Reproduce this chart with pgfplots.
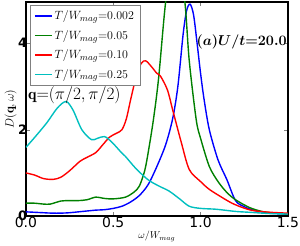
\documentclass[border=0pt]{standalone}
\usepackage{pgfplots}
\pgfplotsset{compat=1.18}
\usepackage{bm}
\usepackage{fontspec}
\setsansfont{DejaVu Sans}
\definecolor{mplgreen}{rgb}{0,0.5,0}
\definecolor{mplcyan}{rgb}{0,0.75,0.75}
\begin{document}
\begin{tikzpicture}
\begin{axis}[
  name=ax,
  at={(26pt,28pt)}, anchor=south west,
  scale only axis, width=263pt, height=215pt,
  xmin=0, xmax=1.5, ymin=0, ymax=4.95,
  xtick={0,0.5,1,1.5}, xticklabels={0.0,0.5,1.0,1.5},
  ytick={0,2,4}, yticklabels={0,2,4},
  tick align=inside, major tick length=4pt,
  axis line style={line width=1.4pt},
  xticklabel style={font=\sffamily\fontsize{14}{14}\selectfont, inner sep=1pt},
  yticklabel style={font=\sffamily\bfseries\fontsize{13}{13}\selectfont, inner sep=0pt, xshift=1.5pt},
  xlabel={$\omega/W_{mag}$},
  xlabel style={font=\fontsize{10}{10}\selectfont, yshift=1pt},
  ylabel={$D(\mathbf{q},\omega)$},
  ylabel style={font=\fontsize{13}{13}\selectfont, yshift=-2pt},
  legend style={at={(0.015,0.988)}, anchor=north west, draw=gray, line width=0.6pt,
    font=\fontsize{12.5}{12.5}\selectfont, row sep=5pt, inner xsep=4pt, inner ysep=4pt},
  legend cell align=left,
  every axis plot/.append style={line width=1.4pt},
]
\addplot[blue, smooth] coordinates {
(0,0.10)(0.05,0.09)(0.1,0.08)(0.15,0.07)(0.2,0.07)(0.25,0.08)(0.3,0.10)(0.35,0.12)(0.4,0.14)(0.45,0.15)(0.5,0.18)(0.55,0.23)(0.6,0.33)(0.65,0.48)(0.7,0.73)(0.75,1.15)(0.8,1.65)(0.84,2.25)(0.87,3.0)(0.9,4.2)(0.92,4.75)(0.94,4.9)(0.96,4.65)(0.98,4.0)(1.0,3.3)(1.02,2.7)(1.05,2.0)(1.1,1.3)(1.15,0.85)(1.2,0.36)(1.25,0.22)(1.3,0.14)(1.35,0.10)(1.4,0.07)(1.5,0.05)};
\addlegendentry{$T/W_{mag}{=}0.002$}
\addplot[mplgreen, smooth] coordinates {
(0,0.30)(0.05,0.30)(0.1,0.28)(0.14,0.28)(0.2,0.35)(0.25,0.36)(0.3,0.36)(0.35,0.38)(0.4,0.44)(0.45,0.41)(0.5,0.40)(0.57,0.44)(0.62,0.56)(0.65,0.70)(0.68,1.05)(0.7,1.47)(0.73,2.23)(0.76,3.2)(0.8,4.95)(0.84,5.9)(0.87,5.9)(0.91,4.95)(0.935,3.6)(0.975,2.23)(1.0,1.8)(1.05,1.15)(1.1,0.8)(1.15,0.55)(1.2,0.38)(1.28,0.2)(1.35,0.11)(1.4,0.08)(1.5,0.05)};
\addlegendentry{$T/W_{mag}{=}0.05$}
\addplot[red, smooth] coordinates {
(0,1.0)(0.05,0.95)(0.1,0.87)(0.155,0.85)(0.2,0.9)(0.25,1.05)(0.31,1.27)(0.35,1.36)(0.4,1.47)(0.44,1.65)(0.48,1.83)(0.52,1.92)(0.55,2.0)(0.575,2.25)(0.6,2.7)(0.63,3.2)(0.66,3.53)(0.686,3.59)(0.72,3.45)(0.75,3.3)(0.77,3.24)(0.81,2.92)(0.84,2.46)(0.87,2.0)(0.89,1.7)(0.935,1.08)(1.0,0.8)(1.05,0.62)(1.12,0.44)(1.18,0.3)(1.24,0.2)(1.3,0.13)(1.4,0.09)(1.5,0.07)};
\addlegendentry{$T/W_{mag}{=}0.10$}
\addplot[mplcyan, smooth] coordinates {
(0,1.59)(0.05,1.82)(0.12,2.16)(0.18,2.5)(0.23,2.65)(0.27,2.45)(0.32,2.0)(0.375,1.77)(0.41,1.8)(0.45,1.84)(0.49,1.72)(0.54,1.5)(0.57,1.38)(0.63,1.1)(0.7,0.84)(0.76,0.7)(0.82,0.58)(0.88,0.4)(0.935,0.23)(1.0,0.18)(1.09,0.16)(1.2,0.11)(1.28,0.09)(1.4,0.06)(1.5,0.05)};
\addlegendentry{$T/W_{mag}{=}0.25$}
\end{axis}
\node[anchor=west, font=\fontsize{16}{16}\selectfont, inner sep=0pt] at (28pt,149pt) {$\mathbf{q}{=}(\pi/2,\pi/2)$};
\node[anchor=east, font=\fontsize{14}{14}\selectfont, inner sep=0pt] at (288pt,203pt) {$\bm{(a)U/t{=}20.0}$};
\path[use as bounding box] (0pt,0pt) rectangle (300pt,245pt);
\end{tikzpicture}
\end{document}
